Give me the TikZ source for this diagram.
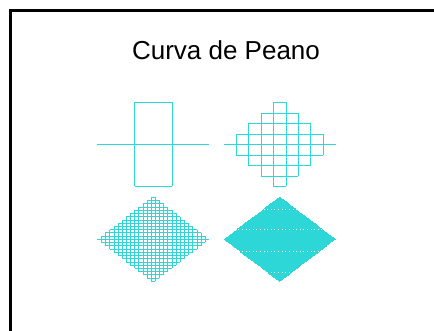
\documentclass[tikz,border=0pt]{standalone}
\usepackage{fontspec}
\setmainfont{Liberation Sans}
\definecolor{peanocol}{RGB}{45,215,215}
\tikzset{
  peano/.style={draw=peanocol, line width=0.5pt},
  frameline/.style={draw=black, line width=2.3pt, line join=miter},
}
\newcommand\PeanoGrid[3]{%
  \pgfmathsetmacro\pgN{#1}%
  \pgfmathsetmacro\pgYs{42*#1/(#1-1)}%
  \pgfmathtruncatemacro\pgK{(#1-1)/2}%
  \pgfmathtruncatemacro\pgKm{(#1-1)/2-1}%
  \foreach \k in {-\pgK,...,\pgK}{%
    \pgfmathsetmacro\yy{2*\k/\pgN*\pgYs}%
    \pgfmathsetmacro\xx{56*(1-abs(2*\k)/\pgN)}%
    \draw[peano] (#2-\xx,#3+\yy) -- (#2+\xx,#3+\yy);
  }%
  \foreach \m in {-\pgK,...,\pgKm}{%
    \pgfmathsetmacro\xo{56*(2*\m+1)/\pgN}%
    \pgfmathsetmacro\yh{\pgYs*(1-abs(2*\m+1)/\pgN)}%
    \draw[peano] (#2+\xo,#3-\yh) -- (#2+\xo,#3+\yh);
  }%
}
\begin{document}
\begin{tikzpicture}[x=1pt,y=-1pt]
  \useasboundingbox (0,0) rectangle (434,331);
  \draw[frameline] (10.5,335) -- (10.5,10.5) -- (438,10.5);
  \node[anchor=base, inner sep=0pt, font=\fontsize{26}{30}\selectfont] (title) at (226,60) {Curva de Peano};
  \PeanoGrid{3}{153.2}{144.3}
  \PeanoGrid{9}{279.6}{144.3}
  \PeanoGrid{27}{153.2}{239.2}
  \PeanoGrid{81}{279.6}{239.2}
\end{tikzpicture}
\end{document}
